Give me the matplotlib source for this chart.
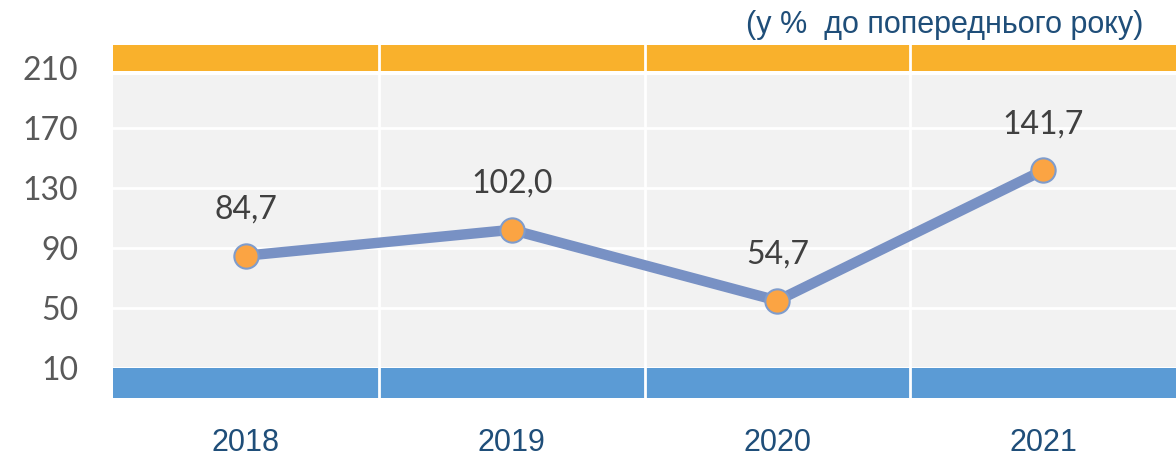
import matplotlib
matplotlib.use("Agg")
import matplotlib.pyplot as plt

years = ["2018", "2019", "2020", "2021"]
values = [84.7, 102.0, 54.7, 141.7]
value_labels = ["84,7", "102,0", "54,7", "141,7"]
yticks = [10, 50, 90, 130, 170, 210]
title = "(у %  до попереднього року)"

fig = plt.figure(figsize=(11.76, 4.58), dpi=100)
ax = fig.add_axes([113/1176, (458-397.5)/458, 1-113/1176, (397.5-45)/458])
ax.set_xlim(-0.5, 3.5)
ax.set_ylim(-10, 225.4)
ax.set_facecolor("white")

# bands and background
ax.axhspan(10.7, 205.4, color="#f2f2f2", lw=0, zorder=0)
ax.axhspan(208.1, 225.4, color="#f9b12c", lw=0, zorder=0)
ax.axhspan(-10, 9.6, color="#5b9bd5", lw=0, zorder=0)
for v in yticks[1:-1]:
    ax.axhline(v, color="white", lw=2, zorder=1)
for xv in [0.5, 1.5, 2.5]:
    ax.axvline(xv, color="white", lw=2, zorder=1)

x = list(range(len(years)))
ax.plot(x, values, color="#7891c4", lw=7.5, zorder=3, solid_capstyle="round")
ax.plot(x, values, ls="none", marker="o", ms=17.5, mfc="#fba443",
        mec="#7f9ccc", mew=1.5, zorder=4)
for xi, v, lab in zip(x, values, value_labels):
    ax.annotate(lab, (xi, v), xytext=(0, 33), textcoords="offset points",
                ha="center", va="center", fontsize=23, family="Lato",
                color="#404040", zorder=5)

ax.set_yticks(yticks)
ax.set_yticklabels([str(t) for t in yticks], fontsize=23, family="Lato",
                   color="#595959")
ax.set_xticks(x)
ax.set_xticklabels(years, fontsize=22, family="Liberation Sans", color="#1f4e79")
ax.tick_params(axis="y", length=0, pad=25)
ax.tick_params(axis="x", length=0, pad=22)
for s in ax.spines.values():
    s.set_visible(False)

fig.text(1143/1176, 1-25/458, title, ha="right", va="center", fontsize=22,
         family="Liberation Sans", color="#1f4e79")

fig.savefig("out.png", dpi=100)
